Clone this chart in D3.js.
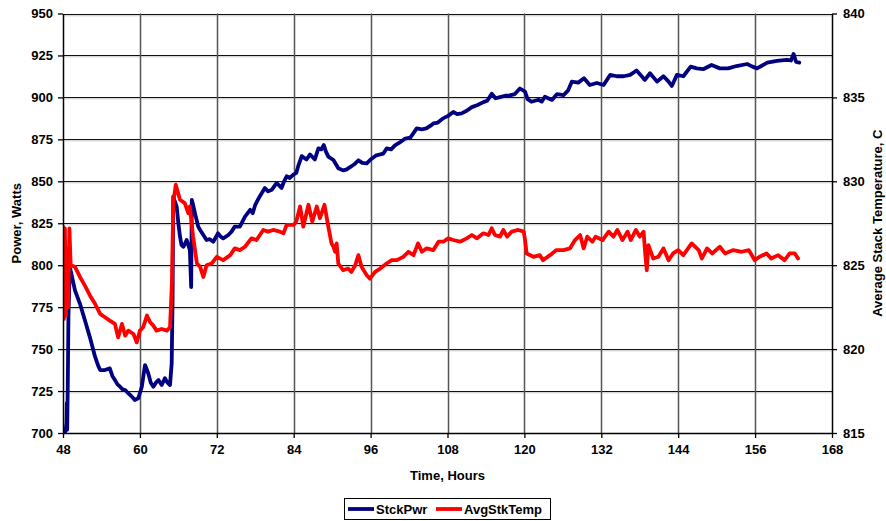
<!DOCTYPE html>
<html>
<head>
<meta charset="utf-8">
<script src="https://cdn.jsdelivr.net/npm/d3@7"></script>
<style>
  html, body { margin: 0; padding: 0; background: #fff; }
  svg text { font-family: "Liberation Sans", Arial, sans-serif; font-weight: bold; }
</style>
</head>
<body>
<svg id="chart" width="886" height="521"></svg>
<script>
// Stack power: [time (h), power (W)]
const stckPwr = [
  [48.0,700],[48.4,701],[48.55,706],[48.6,718],[48.65,702],[48.75,730],[48.85,770],[49.0,790],[49.1,798],[49.3,795],
  [49.87,785],[50.65,777],[51.43,767],[52.2,757],[53.0,745.5],[53.5,740],[53.8,737.5],[54.55,737.5],[55.3,738.5],
  [55.7,734],[56.1,731.6],[56.5,729],[56.9,727.6],[57.3,726],[57.7,725.6],[58.1,724],[58.5,722.6],[58.9,721],
  [59.2,719.7],[59.75,720.7],[60.3,727.6],[60.8,740.5],[61.3,735.6],[61.7,730],[62.1,727.6],[62.5,730],[62.9,731.6],
  [63.4,728.6],[63.9,732.6],[64.3,730],[64.7,728.6],[64.96,741.5],[65.1,780],[65.2,840.8],[65.45,838],[65.74,834.9],
  [66.0,825],[66.26,817],[66.5,812],[66.8,811],[67.3,815],[67.8,809],[68.0,787],[68.1,838.9],[68.3,836],[68.6,830.9],
  [69.1,823],[69.4,821],[69.9,818],[70.4,815],[70.9,815.5],[71.45,814],[72.2,819],[72.6,817],[73.0,816],[73.8,818],
  [74.3,820],[74.8,823],[75.6,823],[76.0,826],[76.4,829],[77.2,833],[77.6,831],[78.0,836],[78.7,841],[79.5,846],
  [80.0,844],[80.6,845],[81.35,849],[82.1,846],[82.5,850],[82.9,853],[83.4,852],[83.95,854],[84.4,855],[84.7,859],
  [85.25,865],[86.0,863],[86.55,866],[87.3,863],[87.85,869.6],[88.3,869],[88.7,871.6],[89.0,868],[89.4,864.7],
  [90.2,862.7],[90.96,857.8],[91.7,856.5],[92.2,857],[92.8,858.5],[93.4,860],[94.1,862.5],[94.7,861],[95.4,860.7],
  [96.0,863],[96.9,865.5],[97.5,866],[98.0,866.5],[98.5,869.6],[99.2,869],[99.8,871.4],[100.5,873],[101.4,875.5],
  [102.2,876],[103.2,881.5],[104.0,881],[104.7,881.5],[105.3,883],[105.8,884.5],[106.5,885],[107.3,887.5],[108.1,889],
  [108.9,891.3],[109.5,890],[110.2,890.5],[111.0,892],[111.8,894.2],[112.7,895.5],[113.6,897.2],[114.2,898],
  [114.9,902.2],[115.5,899.5],[116.2,900.2],[117.0,901],[117.7,901.2],[118.5,902],[119.3,905.3],[120.1,903.4],
  [120.5,899],[121.1,897.4],[122.2,898.6],[122.7,897.5],[123.2,900.4],[124.3,898.5],[125.1,902],[126.1,901.4],
  [126.8,904],[127.4,909.4],[128.4,908.8],[129.3,911.4],[130.2,907.4],[131.3,908.6],[132.35,907.4],[133.4,913.4],
  [134.4,912.6],[135.5,912.6],[136.5,913.4],[137.5,916],[138.2,913],[138.8,910.4],[139.6,914.4],[140.7,909.4],
  [141.7,912.6],[142.5,909.4],[143.0,906.8],[143.8,913.4],[144.8,912.6],[145.95,918.3],[146.9,917.3],[147.9,916.8],
  [149.2,919.3],[150.5,917.3],[151.8,917.3],[153.1,918.7],[154.75,919.9],[155.5,918.5],[156.3,917.3],[157.9,920.7],
  [159.4,921.8],[160.95,922.3],[161.6,922],[162.0,925.9],[162.4,921.1],[162.9,920.7]
];

// Average stack temperature: [time (h), temperature (C)]
const avgStkTemp = [
  [48.0,827.3],[48.15,821.8],[48.3,827.2],[48.45,822.0],[48.6,826.0],[48.8,822.5],[49.0,827.2],[49.2,825.0],
  [49.87,824.9],[50.65,824.3],[51.4,823.8],[52.2,823.2],[53.0,822.7],[53.8,822.1],[54.55,821.9],[55.3,821.7],
  [56.1,821.5],[56.6,820.7],[57.2,821.5],[57.7,820.8],[58.2,821.1],[59.0,820.9],[59.5,820.4],[60.0,821.1],
  [60.5,821.3],[61.1,822.0],[61.6,821.6],[62.1,821.4],[62.6,821.1],[63.4,821.2],[64.2,821.1],[64.7,821.3],
  [65.0,824.0],[65.2,828.7],[65.6,829.8],[66.26,828.9],[67.0,828.7],[67.55,828.1],[67.8,828.5],[68.3,826.7],
  [68.9,825.1],[69.4,824.9],[69.9,824.3],[70.4,825.0],[71.2,825.1],[72.0,825.5],[73.0,825.3],[74.1,825.6],
  [74.8,826.0],[75.6,825.9],[76.4,826.1],[77.4,826.6],[78.2,826.5],[79.25,827.1],[80.0,827.0],[80.8,827.1],
  [81.85,827.0],[82.4,826.9],[82.9,827.4],[84.0,827.4],[84.4,827.6],[85.0,828.5],[85.5,827.3],[86.3,828.6],
  [86.9,827.6],[87.6,828.5],[88.1,827.8],[88.8,828.6],[89.4,827.3],[89.9,826.3],[90.2,826.1],[90.45,825.8],
  [90.7,826.3],[90.96,825.1],[91.7,824.7],[92.5,824.8],[93.0,824.6],[93.6,825.0],[94.1,825.6],[94.6,824.9],
  [95.4,824.4],[95.9,824.2],[96.7,824.6],[97.5,824.8],[98.5,825.1],[99.3,825.3],[100.1,825.3],[101.1,825.5],
  [101.9,825.8],[102.7,825.6],[103.4,826.3],[104.0,825.8],[104.75,826.0],[105.8,825.9],[106.6,826.4],
  [107.35,826.4],[108.1,826.6],[108.9,826.5],[109.95,826.4],[111.0,826.6],[111.8,826.8],[112.6,826.6],
  [113.6,826.9],[114.4,826.8],[114.9,827.2],[115.4,826.8],[116.2,826.7],[116.7,827.1],[117.3,826.7],[118.0,827.0],
  [119.05,827.1],[119.9,827.0],[120.1,826.5],[120.35,825.7],[121.4,825.5],[122.4,825.6],[122.9,825.3],
  [124.0,825.6],[125.0,825.9],[126.1,825.9],[127.1,826.0],[127.9,826.5],[128.7,826.8],[129.25,826.0],
  [129.8,826.7],[130.6,826.4],[131.1,826.7],[132.2,826.5],[133.15,827.0],[133.9,826.7],[134.5,827.1],
  [135.3,826.5],[136.1,827.0],[136.6,826.5],[137.4,827.1],[138.0,826.7],[138.6,827.0],[138.85,825.7],
  [139.1,824.7],[139.35,826.2],[140.1,825.4],[140.9,825.5],[141.7,826.0],[142.5,825.3],[143.2,825.7],
  [144.0,825.9],[144.8,825.6],[146.1,826.3],[147.2,825.9],[147.7,825.4],[148.5,826.0],[149.3,825.7],
  [150.5,826.1],[151.3,825.7],[152.6,825.9],[153.9,825.8],[155.0,825.9],[155.95,825.3],[156.7,825.5],
  [157.8,825.7],[158.5,825.4],[159.6,825.6],[160.6,825.3],[161.4,825.7],[162.2,825.7],[162.7,825.4]
];

const xTicks = [48, 60, 72, 84, 96, 108, 120, 132, 144, 156, 168];
const pwrTicks = [700, 725, 750, 775, 800, 825, 850, 875, 900, 925, 950];
const tempTicks = [815, 820, 825, 830, 835, 840];
const seriesNames = ["StckPwr", "AvgStkTemp"];
const seriesColors = ["#000080", "#FF0000"];

const svg = d3.select("#chart");
const plotLeft = 63, plotRight = 832, plotTop = 13.5, plotBottom = 433;
const fontSize = 13;

const x = d3.scaleLinear().domain([48, 168]).range([plotLeft, plotRight]);
const yL = d3.scaleLinear().domain([700, 950]).range([plotBottom, plotTop]);
const yR = d3.scaleLinear().domain([815, 840]).range([plotBottom, plotTop]);

svg.append("clipPath").attr("id", "plotClip")
  .append("rect").attr("x", plotLeft).attr("y", plotTop - 2)
  .attr("width", plotRight - plotLeft).attr("height", plotBottom - plotTop + 2);

// grid
const grid = svg.append("g");
grid.selectAll("line.hs").data(pwrTicks.slice(1)).join("line").attr("class", "hs")
  .attr("x1", plotLeft).attr("x2", plotRight)
  .attr("y1", d => Math.round(yL(d)) + 1.8).attr("y2", d => Math.round(yL(d)) + 1.8)
  .attr("stroke", "#c8c8c8").attr("stroke-width", 1);
grid.selectAll("line.h").data(pwrTicks.slice(1)).join("line").attr("class", "h")
  .attr("x1", plotLeft).attr("x2", plotRight)
  .attr("y1", d => Math.round(yL(d)) + 0.5).attr("y2", d => Math.round(yL(d)) + 0.5)
  .attr("stroke", "#111").attr("stroke-width", 1.2);
grid.selectAll("line.v").data(xTicks.slice(1, -1)).join("line").attr("class", "v")
  .attr("x1", d => Math.round(x(d)) + 0.5).attr("x2", d => Math.round(x(d)) + 0.5)
  .attr("y1", plotTop).attr("y2", plotBottom)
  .attr("stroke", "#555").attr("stroke-width", 1.5);

// series
const linePwr = d3.line().x(d => x(d[0])).y(d => yL(d[1]));
const lineTemp = d3.line().x(d => x(d[0])).y(d => yR(d[1]));
const plot = svg.append("g").attr("clip-path", "url(#plotClip)");
plot.append("path").datum(stckPwr).attr("d", linePwr)
  .attr("fill", "none").attr("stroke", seriesColors[0]).attr("stroke-width", 3.8)
  .attr("stroke-linejoin", "round").attr("stroke-linecap", "round");
plot.append("path").datum(avgStkTemp).attr("d", lineTemp)
  .attr("fill", "none").attr("stroke", seriesColors[1]).attr("stroke-width", 3.8)
  .attr("stroke-linejoin", "round").attr("stroke-linecap", "round");

// axes
const axB = svg.append("g").attr("transform", `translate(0,${plotBottom})`)
  .call(d3.axisBottom(x).tickValues(xTicks).tickSize(5).tickSizeOuter(0).tickPadding(7));
const axL = svg.append("g").attr("transform", `translate(${plotLeft},0)`)
  .call(d3.axisLeft(yL).tickValues(pwrTicks).tickSize(5).tickSizeOuter(0).tickPadding(5));
const axR = svg.append("g").attr("transform", `translate(${plotRight},0)`)
  .call(d3.axisRight(yR).tickValues(tempTicks).tickSize(5).tickSizeOuter(0).tickPadding(6));
[axB, axL, axR].forEach(a => {
  a.selectAll("path.domain").attr("stroke", "#000").attr("stroke-width", 1.5);
  a.selectAll(".tick line").attr("stroke", "#000").attr("stroke-width", 1.3);
  a.selectAll("text").attr("font-size", fontSize).attr("font-weight", "bold").attr("fill", "#000")
    .attr("font-family", "Liberation Sans, Arial, sans-serif");
});

// titles
svg.append("text").attr("x", (plotLeft + plotRight) / 2).attr("y", 480).attr("text-anchor", "middle")
  .attr("font-size", fontSize).text("Time, Hours");
svg.append("text").attr("transform", `translate(21,${(plotTop + plotBottom) / 2}) rotate(-90)`)
  .attr("text-anchor", "middle").attr("font-size", fontSize).text("Power, Watts");
svg.append("text").attr("transform", `translate(882,${(plotTop + plotBottom) / 2}) rotate(-90)`)
  .attr("text-anchor", "middle").attr("font-size", fontSize).text("Average Stack Temperature, C");

// legend
const lg = svg.append("g");
lg.append("rect").attr("x", 344.5).attr("y", 498.5).attr("width", 206).attr("height", 21)
  .attr("fill", "#fff").attr("stroke", "#000").attr("stroke-width", 1);
const legendItems = [
  { name: seriesNames[0], color: seriesColors[0], x0: 348 },
  { name: seriesNames[1], color: seriesColors[1], x0: 436 }
];
legendItems.forEach(it => {
  lg.append("line").attr("x1", it.x0).attr("x2", it.x0 + 26).attr("y1", 509).attr("y2", 509)
    .attr("stroke", it.color).attr("stroke-width", 3.8);
  lg.append("text").attr("x", it.x0 + 28).attr("y", 513.5).attr("font-size", fontSize).text(it.name);
});
</script>
</body>
</html>
